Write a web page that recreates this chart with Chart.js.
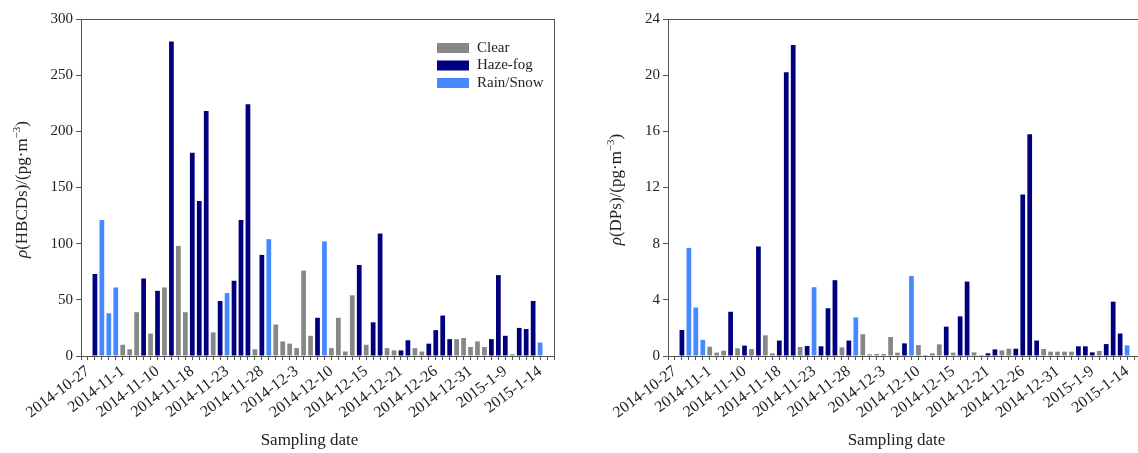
<!DOCTYPE html>
<html>
<head>
<meta charset="utf-8">
<script src="https://cdn.jsdelivr.net/npm/chart.js@4.4.0/dist/chart.umd.min.js"></script>
<style>
  html, body { margin: 0; padding: 0; background: #fff; overflow: hidden; }
  .panel { position: absolute; top: 0; }
  #left { left: 0; }
  #right { left: 570px; }
</style>
</head>
<body>
<div class="panel" id="left"><canvas id="hbcdChart" width="570" height="453"></canvas></div>
<div class="panel" id="right"><canvas id="dpChart" width="580" height="453"></canvas></div>
<script>
// date labels shown every 5th sampling slot
const tickLabels = [
  "2014-10-27", "2014-11-1", "2014-11-10", "2014-11-18", "2014-11-23",
  "2014-11-28", "2014-12-3", "2014-12-10", "2014-12-15", "2014-12-21",
  "2014-12-26", "2014-12-31", "2015-1-9", "2015-1-14"
];

// weather on each sampling day: C = clear, H = haze-fog, R = rain/snow
const weather = [
  "H", "R", "R", "R", "C",  "C", "C", "H", "C", "H",
  "C", "H", "C", "C", "H",  "H", "H", "C", "H", "R",
  "H", "H", "H", "C", "H",  "R", "C", "C", "C", "C",
  "C", "C", "H", "R", "C",  "C", "C", "C", "H", "C",
  "H", "H", "C", "C", "H",  "H", "C", "C", "H", "H",
  "H", "H", "C", "C", "C",  "C", "C", "H", "H", "H",
  "C", "H", "H", "H", "R"
];

// HBCDs, pg/m3
const hbcdValues = [
  73, 121, 38, 61, 10,  6, 39, 69, 20, 58,
  61, 280, 98, 39, 181,  138, 218, 21, 49, 56,
  67, 121, 224, 6, 90,  104, 28, 13, 11, 7,
  76, 18, 34, 102, 7,  34, 4, 54, 81, 10,
  30, 109, 7, 5, 5,  14, 7, 4, 11, 23,
  36, 15, 15, 16, 8,  13, 8, 15, 72, 18,
  1.5, 25, 24, 49, 12
];

// DPs, pg/m3
const dpValues = [
  1.85, 7.7, 3.45, 1.15, 0.66,  0.24, 0.38, 3.15, 0.55, 0.74,
  0.5, 7.8, 1.47, 0.19, 1.1,  20.2, 22.15, 0.64, 0.71, 4.9,
  0.69, 3.4, 5.4, 0.62, 1.1,  2.75, 1.55, 0.12, 0.14, 0.14,
  1.35, 0.24, 0.9, 5.7, 0.78,  0.07, 0.19, 0.83, 2.09, 0.24,
  2.82, 5.3, 0.26, 0.07, 0.19,  0.47, 0.4, 0.52, 0.52, 11.5,
  15.8, 1.1, 0.5, 0.31, 0.31,  0.31, 0.31, 0.69, 0.69, 0.26,
  0.36, 0.85, 3.87, 1.6, 0.76
];

const weatherTypes = [
  { code: "C", label: "Clear", color: "#878787" },
  { code: "H", label: "Haze-fog", color: "#00007f" },
  { code: "R", label: "Rain/Snow", color: "#4689ff" }
];

Chart.defaults.font.family = "'Liberation Serif', 'Times New Roman', serif";
Chart.defaults.color = "#222";

// the axis runs from one slot before 2014-10-27 to two slots after the last sample
const SLOTS = weather.length + 4;
const categories = Array.from({ length: SLOTS }, (_, j) => {
  const p = j - 1;
  return p >= 0 && p % 5 === 0 ? tickLabels[p / 5] : "";
});

function seriesFor(values, code) {
  const out = new Array(SLOTS).fill(null);
  values.forEach((v, i) => {
    if (weather[i] === code) out[i + 2] = v;
  });
  return out;
}

const decorations = {
  id: "decorations",
  afterDraw(chart, args, opts) {
    const { ctx, chartArea: a } = chart;
    ctx.save();
    // frame
    ctx.strokeStyle = "#555";
    ctx.lineWidth = 1;
    ctx.strokeRect(Math.round(a.left) + 0.5, Math.round(a.top) + 0.5,
      Math.round(a.right - a.left), Math.round(a.bottom - a.top));

    // y title with italic rho and superscript
    const parts = [
      { t: "\u03c1", f: "italic 17px 'Liberation Serif', serif", dy: 0 },
      { t: "(" + opts.name + ")/(pg\u00b7m", f: "17px 'Liberation Serif', serif", dy: 0 },
      { t: "\u22123", f: "11px 'Liberation Serif', serif", dy: -7 },
      { t: ")", f: "17px 'Liberation Serif', serif", dy: 0 }
    ];
    let total = 0;
    parts.forEach((p) => { ctx.font = p.f; p.w = ctx.measureText(p.t).width; total += p.w; });
    ctx.translate(opts.titleX, (a.top + a.bottom) / 2 + 2);
    ctx.rotate(-Math.PI / 2);
    ctx.fillStyle = "#222";
    ctx.textBaseline = "alphabetic";
    let x = -total / 2;
    parts.forEach((p) => { ctx.font = p.f; ctx.fillText(p.t, x, 6 + p.dy); x += p.w; });
    ctx.setTransform(1, 0, 0, 1, 0, 0);

    // x title
    ctx.font = "17px 'Liberation Serif', serif";
    ctx.textAlign = "center";
    ctx.textBaseline = "middle";
    ctx.fillText("Sampling date", (a.left + a.right) / 2 - 8, 441);

    // legend
    if (opts.legend) {
      const lx = a.right - 117;
      chart.data.datasets.forEach((ds, i) => {
        const y = a.top + 24 + i * 17.5;
        ctx.fillStyle = ds.backgroundColor;
        ctx.fillRect(lx, y, 32, 10);
        ctx.fillStyle = "#222";
        ctx.font = "15px 'Liberation Serif', serif";
        ctx.textAlign = "left";
        ctx.fillText(ds.label, lx + 40, y + 5);
      });
    }
    ctx.restore();
  }
};

function makeChart(id, values, yMax, yStep, opts) {
  const ctx = document.getElementById(id).getContext("2d");
  return new Chart(ctx, {
    type: "bar",
    data: {
      labels: categories,
      datasets: weatherTypes.map((w) => ({
        label: w.label,
        data: seriesFor(values, w.code),
        backgroundColor: w.color,
        borderWidth: 0,
        barPercentage: 0.68,
        categoryPercentage: 1.0
      }))
    },
    options: {
      responsive: false,
      animation: false,
      layout: { padding: { left: 0, top: 19, right: opts.padRight, bottom: 0 } },
      plugins: {
        legend: { display: false },
        tooltip: { enabled: false },
        decorations: opts
      },
      scales: {
        x: {
          stacked: true,
          offset: false,
          grid: { offset: false, drawOnChartArea: false, tickLength: 4, color: "#555" },
          border: { color: "#555" },
          ticks: { autoSkip: false, minRotation: 37, maxRotation: 37, padding: 2, font: { size: 16 } },
          afterFit: (s) => { s.height = 97; s.paddingLeft = 0; s.paddingRight = 0; }
        },
        y: {
          stacked: true,
          min: 0,
          max: yMax,
          grid: { drawOnChartArea: false, tickLength: 5, color: "#555" },
          border: { color: "#555" },
          ticks: { stepSize: yStep, padding: 3, font: { size: 15 } },
          afterFit: (s) => { s.width = opts.yWidth; s.paddingTop = 0; s.paddingBottom = 0; }
        }
      }
    },
    plugins: [decorations]
  });
}

makeChart("hbcdChart", hbcdValues, 300, 50,
  { name: "HBCDs", titleX: 21, yWidth: 81, padRight: 16, legend: true });
makeChart("dpChart", dpValues, 24, 4,
  { name: "DPs", titleX: 45, yWidth: 98, padRight: 9, legend: false });
</script>
</body>
</html>
